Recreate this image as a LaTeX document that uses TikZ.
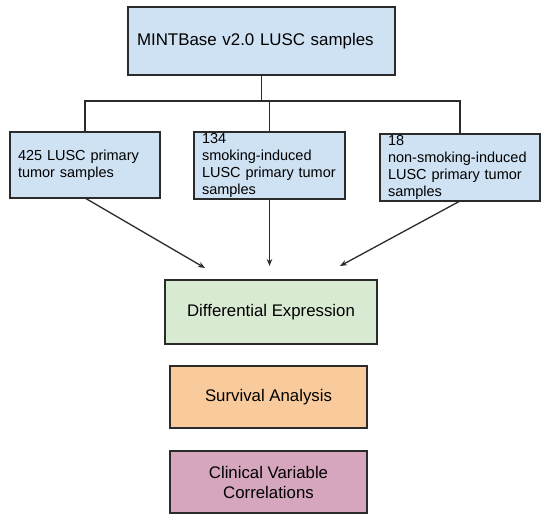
\documentclass[tikz,border=0pt]{standalone}
\usepackage{fontspec}
\setmainfont{Liberation Sans}
\usetikzlibrary{arrows.meta}
\definecolor{boxblue}{HTML}{CFE2F3}
\definecolor{boxgreen}{HTML}{D9EAD3}
\definecolor{boxorange}{HTML}{F9CB9C}
\definecolor{boxpink}{HTML}{D5A6BD}
\definecolor{edge}{HTML}{2B2B2B}
\begin{document}
\begin{tikzpicture}[x=1pt,y=-1pt,
  box/.style={draw=edge,line width=1.2pt,inner sep=0pt,outer sep=0pt},
  smallbox/.style={box,fill=boxblue,minimum height=66pt,align=left,
    font=\fontsize{14.5}{17}\selectfont,anchor=north west},
  resbox/.style={box,align=center,font=\fontsize{16.8}{20}\selectfont,anchor=north west},
  line/.style={draw=edge,line width=1.3pt},
  arr/.style={line,-{Stealth[length=7pt,width=5.5pt]}}]
\useasboundingbox (0,0) rectangle (550,525);
\node[box,fill=boxblue,anchor=north west,minimum width=267pt,minimum height=68pt,
  text width=249pt,align=left,font=\fontsize{16.9}{20}\selectfont] (top) at (128,7)
  {MINTBase v2.0 LUSC samples};
\node[smallbox,minimum width=150pt,text width=134pt] (left) at (10,132)
  {425 LUSC primary\\tumor samples};
\node[smallbox,minimum width=151pt,text width=135pt,minimum height=67pt] (mid) at (194,132)
  {134\\smoking-induced\\LUSC primary tumor\\samples};
\node[smallbox,minimum width=160pt,text width=144pt,minimum height=67pt] (right) at (380,134)
  {18\\non-smoking-induced\\LUSC primary tumor\\samples};
\node[resbox,fill=boxgreen,minimum width=212pt,minimum height=64pt] (de) at (165,280)
  {Differential Expression};
\node[resbox,fill=boxorange,minimum width=197pt,minimum height=62pt] (sa) at (170,366)
  {Survival Analysis};
\node[resbox,fill=boxpink,minimum width=197pt,minimum height=62pt] (cv) at (170,451)
  {Clinical Variable\\Correlations};
\coordinate (j) at (top.south |- 0,101);
\coordinate (aL) at (205,268);
\coordinate (aM) at (mid.south |- 0,266);
\coordinate (aR) at (340,266);
\draw[line] (top.south) -- (j);
\draw[line] (left.north) |- (j) -| (right.north);
\draw[line] (mid.north) -- (mid.north |- j);
\draw[arr] (left.south) -- (aL);
\draw[arr] (mid.south) -- (aM);
\draw[arr] (right.south) -- (aR);
\end{tikzpicture}
\end{document}
